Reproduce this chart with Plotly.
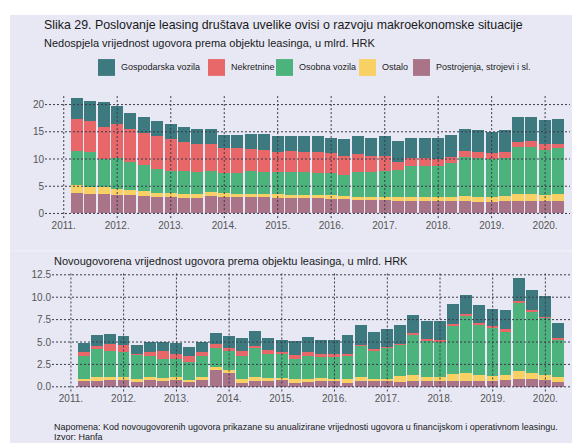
import pandas as pd
import plotly.graph_objects as go

# ---------------- data ----------------
quarters = [d.strftime("%Y-%m-%d") for d in pd.date_range("2011-03-31", periods=37, freq="QE")]
year_ticks = [f"{y}-01-01" for y in range(2011, 2021)]
year_labels = [f"{y}." for y in range(2011, 2021)]

series_names = ["Postrojenja, strojevi i sl.", "Ostalo", "Osobna vozila", "Nekretnine", "Gospodarska vozila"]
series_colors = ["#A97488", "#F8D063", "#4DB37D", "#E8686A", "#3D7A80"]
legend_order = ["Gospodarska vozila", "Nekretnine", "Osobna vozila", "Ostalo", "Postrojenja, strojevi i sl."]

# Nedospjela vrijednost (mlrd. HRK)
top_postrojenja = [3.7, 3.5, 3.5, 3.3, 3.3, 3.2, 2.9, 2.9, 2.8, 2.8, 3.2, 3.0, 3.0, 2.9, 2.9, 2.8,
                   2.8, 2.8, 2.8, 2.6, 2.6, 2.4, 2.4, 2.4, 2.2, 2.2, 2.2, 2.2, 2.2, 2.2, 2.1, 2.1,
                   2.2, 2.2, 2.2, 2.2, 2.2]
top_ostalo = [1.5, 1.3, 1.3, 1.2, 0.9, 0.9, 0.8, 0.8, 0.7, 0.7, 0.7, 0.7, 0.6, 0.7, 0.6, 0.7,
              0.5, 0.5, 0.5, 0.7, 0.5, 0.6, 0.6, 0.6, 0.8, 0.8, 0.8, 0.8, 0.8, 1.0, 0.9, 0.9,
              1.0, 1.3, 1.3, 1.1, 1.3]
top_osobna = [6.3, 6.4, 5.2, 5.7, 5.3, 4.8, 4.5, 4.1, 4.2, 4.0, 3.8, 3.7, 3.7, 4.1, 4.0, 4.0,
              4.2, 4.2, 4.0, 4.0, 4.0, 4.5, 4.5, 4.7, 4.9, 5.6, 5.6, 5.6, 6.2, 7.1, 7.2, 6.9,
              7.0, 8.6, 8.7, 8.4, 8.4]
top_nekretnine = [5.9, 5.8, 5.8, 6.2, 5.9, 5.8, 5.9, 5.8, 5.4, 5.2, 5.1, 4.5, 4.6, 4.1, 4.1, 3.8,
                  4.0, 3.8, 3.9, 3.7, 3.5, 3.3, 3.1, 2.9, 1.6, 1.5, 1.6, 1.3, 1.1, 1.2, 1.1, 1.1,
                  1.0, 0.9, 1.0, 1.0, 0.9]
top_gospodarska = [3.8, 3.6, 4.6, 3.3, 3.0, 3.0, 2.9, 2.8, 2.8, 2.8, 2.7, 2.5, 2.5, 2.8, 2.9, 2.8,
                   2.7, 2.8, 2.9, 2.9, 3.1, 3.3, 3.3, 3.5, 3.7, 3.8, 3.7, 4.0, 4.1, 4.0, 4.0, 4.0,
                   4.1, 4.6, 4.4, 4.5, 4.6]
top_yticks = [0, 5, 10, 15, 20]

# Novougovorena vrijednost (mlrd. HRK)
bot_postrojenja = [0.70, 0.70, 0.81, 0.81, 0.59, 0.81, 0.70, 0.81, 0.59, 0.81, 1.92, 1.62, 0.48, 0.70, 0.70, 0.81,
                   0.48, 0.59, 0.70, 0.70, 0.52, 0.70, 0.70, 0.70, 0.59, 0.70, 0.70, 0.70, 0.70, 0.70, 0.70, 0.70,
                   0.81, 0.92, 0.92, 0.81, 0.59]
bot_ostalo = [0.22, 0.44, 0.33, 0.33, 0.33, 0.33, 0.33, 0.33, 0.26, 0.33, 0.33, 0.30, 0.44, 0.44, 0.33, 0.22,
              0.44, 0.33, 0.33, 0.22, 0.40, 0.44, 0.22, 0.22, 0.70, 0.66, 0.48, 0.48, 0.77, 0.89, 0.66, 0.55,
              0.55, 0.89, 0.67, 0.55, 0.55]
bot_osobna = [2.58, 3.17, 2.88, 2.81, 2.69, 2.40, 2.07, 1.99, 1.99, 2.33, 2.14, 2.10, 2.58, 3.25, 2.73, 2.66,
              2.21, 2.58, 2.44, 2.55, 2.58, 3.47, 3.21, 3.47, 3.43, 4.54, 4.09, 3.98, 5.46, 6.41, 5.68, 5.39,
              4.80, 7.70, 6.82, 6.38, 4.21]
bot_nekretnine = [0.45, 0.30, 0.85, 0.81, 0.15, 0.37, 0.92, 0.63, 0.66, 0.48, 0.40, 0.37, 0.52, 0.22, 0.41, 0.26,
                  0.45, 0.41, 0.22, 0.22, 0.19, 0.07, 0.11, 0.11, 0.11, 0.11, 0.11, 0.11, 0.11, 0.15, 0.11, 0.14,
                  0.29, 0.15, 0.18, 0.15, 0.14]
bot_gospodarska = [0.99, 1.18, 1.03, 0.92, 0.92, 1.10, 0.99, 1.14, 0.96, 1.06, 1.22, 1.29, 1.44, 1.62, 1.29, 1.29,
                   1.55, 1.66, 1.55, 1.55, 2.10, 2.22, 1.88, 1.95, 2.07, 2.10, 1.96, 2.07, 2.29, 2.17, 2.07, 2.00,
                   2.22, 2.55, 2.29, 2.32, 1.63]
bot_yticks = [0.0, 2.5, 5.0, 7.5, 10.0, 12.5]

title_text = "Slika 29. Poslovanje leasing društava uvelike ovisi o razvoju makroekonomske situacije"
sub_top = "Nedospjela vrijednost ugovora prema objektu leasinga, u mlrd. HRK"
sub_bot = "Novougovorena vrijednost ugovora prema objektu leasinga, u mlrd. HRK"
note_text = "Napomena: Kod novougovorenih ugovora prikazane su anualizirane vrijednosti ugovora u financijskom i operativnom leasingu."
source_text = "Izvor: Hanfa"

# ---------------- figure ----------------
# the page body has an 8px margin, so the figure is placed at (8, 8) in the window
OFF = 8
W, H = 580 - OFF, 444 - OFF
FONT = "Liberation Sans, Arial, sans-serif"
BG = "#E7E8F4"
GRID = "#3A3A4A"
BAR_W = 82 * 86400000

def px(x):
    return (x - OFF) / W

def py(y):
    return 1 - (y - OFF) / H

fig = go.Figure()

top_data = [top_postrojenja, top_ostalo, top_osobna, top_nekretnine, top_gospodarska]
bot_data = [bot_postrojenja, bot_ostalo, bot_osobna, bot_nekretnine, bot_gospodarska]
for name, color, vals in zip(series_names, series_colors, top_data):
    fig.add_trace(go.Bar(x=quarters, y=vals, name=name, marker=dict(color=color, line=dict(width=0)),
                         width=BAR_W, xaxis="x", yaxis="y", showlegend=False))
for name, color, vals in zip(series_names, series_colors, bot_data):
    fig.add_trace(go.Bar(x=quarters, y=vals, name=name, marker=dict(color=color, line=dict(width=0)),
                         width=BAR_W, xaxis="x2", yaxis="y2", showlegend=False))

axis_common = dict(showgrid=False, zeroline=False, showline=False, ticks="",
                   tickfont=dict(family=FONT, size=10, color="#555555"))

fig.update_layout(
    width=W, height=H,
    margin=dict(l=0, r=0, t=0, b=0),
    paper_bgcolor="white",
    plot_bgcolor="rgba(0,0,0,0)",
    barmode="stack",
    bargap=0,
    font=dict(family=FONT, color="#222222"),
    xaxis=dict(domain=[px(45), px(570)], type="date", range=["2010-08-26", "2020-06-19"],
               tickvals=year_ticks, ticktext=year_labels, anchor="y", **axis_common),
    yaxis=dict(domain=[py(217), py(92)], range=[-0.85, 21.9], tickvals=top_yticks,
               ticktext=[str(v) for v in top_yticks], anchor="x", **axis_common),
    xaxis2=dict(domain=[px(52), px(577)], type="date", range=["2010-08-23", "2020-08-07"],
                tickvals=year_ticks, ticktext=year_labels, anchor="y2", **axis_common),
    yaxis2=dict(domain=[py(392), py(272)], range=[-0.52, 12.75], tickvals=bot_yticks,
                ticktext=[f"{v:.1f}" for v in bot_yticks], anchor="x2", **axis_common),
)

shapes = [dict(type="rect", xref="paper", yref="paper", x0=px(10), x1=1, y0=0, y1=py(12),
               fillcolor=BG, line=dict(width=0), layer="below"),
          dict(type="line", xref="paper", yref="paper", x0=px(10), x1=1, y0=py(250), y1=py(250),
               line=dict(color="#F1F2FA", width=1), layer="below")]

dot = dict(color=GRID, width=1, dash="2px,2px")
for xa, ya, yt in (("x", "y", top_yticks), ("x2", "y2", bot_yticks)):
    for t in year_ticks:
        shapes.append(dict(type="line", xref=xa, yref=f"{ya} domain", x0=t, x1=t, y0=0, y1=1,
                           line=dot, layer="above"))
    for v in yt:
        shapes.append(dict(type="line", xref=f"{xa} domain", yref=ya, x0=0, x1=1, y0=v, y1=v,
                           line=dot, layer="above"))

annotations = [
    dict(text=title_text, x=px(42), y=py(22), font=dict(size=12.4, color="#1a1a1a")),
    dict(text=sub_top, x=px(42), y=py(40), font=dict(size=11, color="#1a1a1a")),
    dict(text=sub_bot, x=px(52), y=py(260), font=dict(size=11, color="#1a1a1a")),
    dict(text=note_text, x=px(52), y=py(428), font=dict(size=9, color="#1a1a1a")),
    dict(text=source_text, x=px(52), y=py(437.5), font=dict(size=9, color="#1a1a1a")),
]

# custom legend (large square swatches)
legend_x = [98, 208, 276, 359, 413]
color_of = dict(zip(series_names, series_colors))
for name, lx in zip(legend_order, legend_x):
    shapes.append(dict(type="rect", xref="paper", yref="paper", x0=px(lx), x1=px(lx + 17),
                       y0=py(73.5), y1=py(56.5), fillcolor=color_of[name], line=dict(width=0)))
    annotations.append(dict(text=name, x=px(lx + 21), y=py(65), font=dict(size=9, color="#222222")))

for a in annotations:
    a.update(xref="paper", yref="paper", xanchor="left", yanchor="middle", showarrow=False)
    a["font"]["family"] = FONT

fig.update_layout(shapes=shapes, annotations=annotations)

fig.write_html("out.html")
